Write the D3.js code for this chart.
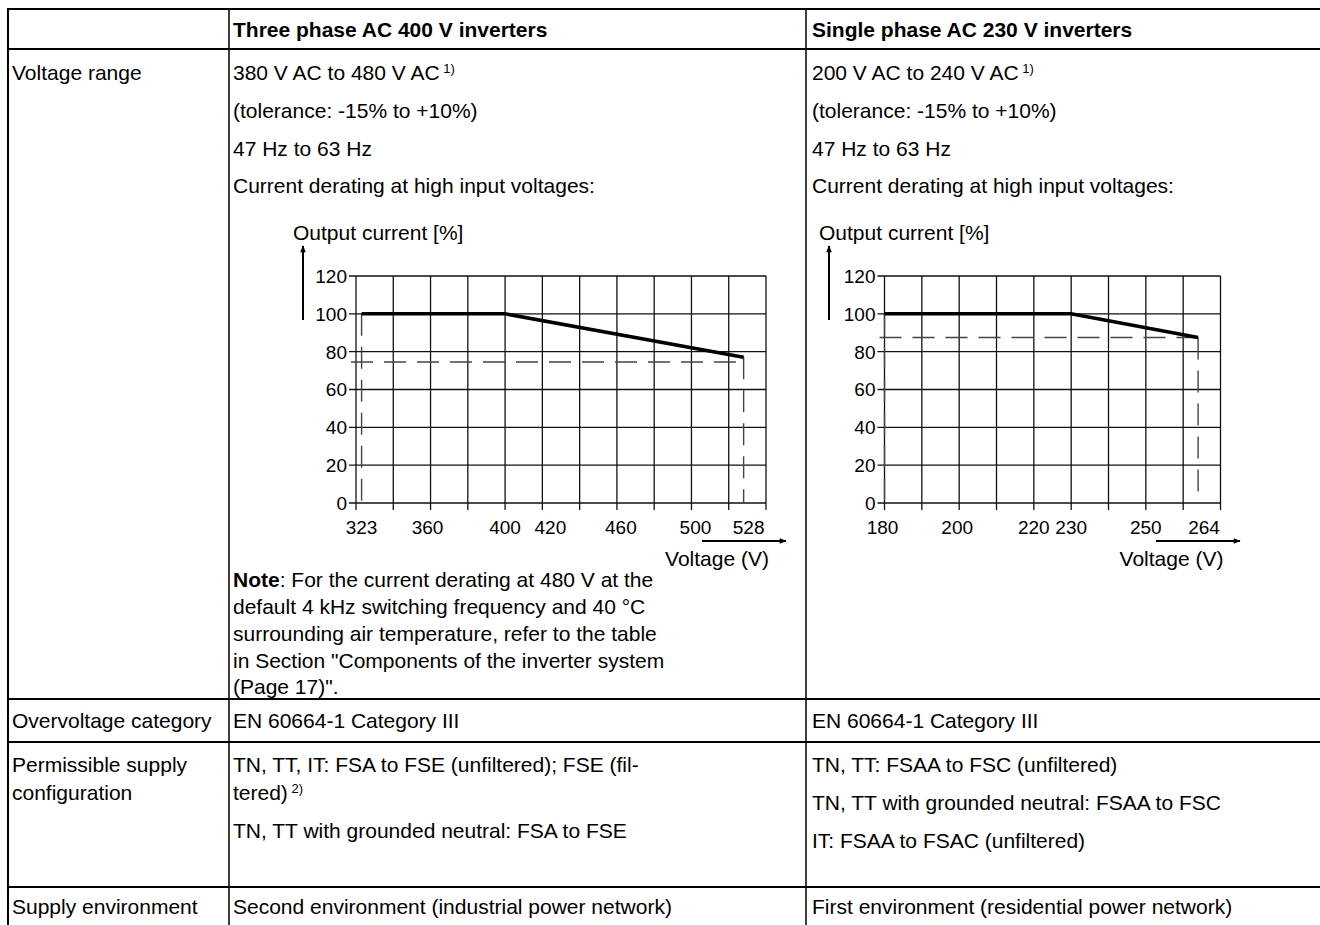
<!DOCTYPE html>
<html><head><meta charset="utf-8">
<script src="https://cdn.jsdelivr.net/npm/d3@7"></script>
<style>
body{margin:0;background:#fff}
svg{display:block}
text{font-family:"Liberation Sans",Arial,Helvetica,sans-serif;fill:#000}
</style>
</head><body>
<svg id="c" width="1320" height="925"></svg>
<script>
// ---------- data ----------
const threePhaseVoltage = [323, 400, 528];
const threePhaseCurrent = [100, 100, 77];
const threePhaseRefCurrent = 74.5;
const singlePhaseVoltage = [180, 230, 264];
const singlePhaseCurrent = [100, 100, 87.5];
const singlePhaseRefCurrent = 87.5;
const threePhaseTicks = [323, 360, 400, 420, 460, 500, 528];
const singlePhaseTicks = [180, 200, 220, 230, 250, 264];
const currentTicks = [0, 20, 40, 60, 80, 100, 120];
const threePhaseDomain = [320, 540];
const singlePhaseDomain = [180, 270];
const threePhaseGridStep = 20;
const singlePhaseGridStep = 10;

const svg = d3.select("#c");
const FS = 21;

// ---------- table ----------
const colX = [8, 229, 806];
const rowY = [9, 49, 699, 742, 887];
const g = svg.append("g");
rowY.forEach(y => g.append("line").attr("x1", 7).attr("x2", 1320).attr("y1", y).attr("y2", y)
  .attr("stroke", "#000").attr("stroke-width", 2));
colX.forEach((x, i) => g.append("line").attr("x1", x).attr("x2", x).attr("y1", 8).attr("y2", 925)
  .attr("stroke", "#000").attr("stroke-width", i === 0 ? 2 : 1.5));

function txt(x, y, s, opts = {}) {
  const t = svg.append("text").attr("x", x).attr("y", y).style("font-size", (opts.size || FS) + "px");
  if (opts.bold) t.style("font-weight", "bold");
  if (opts.anchor) t.attr("text-anchor", opts.anchor);
  return t.text(s);
}
function txtSup(x, y, s, sup) {
  const t = svg.append("text").attr("x", x).attr("y", y).style("font-size", FS + "px");
  t.append("tspan").text(s);
  t.append("tspan").attr("dy", -7).style("font-size", "13px").text(" " + sup);
}

// header
txt(233, 37, "Three phase AC 400 V inverters", {bold: true});
txt(812, 37, "Single phase AC 230 V inverters", {bold: true});

// row 1
txt(12, 80, "Voltage range");
txtSup(233, 80, "380 V AC to 480 V AC", "1)");
txt(233, 118, "(tolerance: -15% to +10%)");
txt(233, 156, "47 Hz to 63 Hz");
txt(233, 193, "Current derating at high input voltages:");
txtSup(812, 80, "200 V AC to 240 V AC", "1)");
txt(812, 118, "(tolerance: -15% to +10%)");
txt(812, 156, "47 Hz to 63 Hz");
txt(812, 193, "Current derating at high input voltages:");

// note
const note = svg.append("text").attr("x", 233).attr("y", 587).style("font-size", FS + "px");
note.append("tspan").style("font-weight", "bold").text("Note");
note.append("tspan").text(": For the current derating at 480 V at the");
txt(233, 614, "default 4 kHz switching frequency and 40 °C");
txt(233, 641, "surrounding air temperature, refer to the table");
txt(233, 668, "in Section \"Components of the inverter system");
txt(233, 694, "(Page 17)\".");

// other rows
txt(12, 728, "Overvoltage category");
txt(233, 728, "EN 60664-1 Category III");
txt(812, 728, "EN 60664-1 Category III");
txt(12, 772, "Permissible supply");
txt(12, 800, "configuration");
txt(233, 772, "TN, TT, IT: FSA to FSE (unfiltered); FSE (fil-");
txtSup(233, 800, "tered)", "2)");
txt(233, 838, "TN, TT with grounded neutral: FSA to FSE");
txt(812, 772, "TN, TT: FSAA to FSC (unfiltered)");
txt(812, 810, "TN, TT with grounded neutral: FSAA to FSC");
txt(812, 848, "IT: FSAA to FSAC (unfiltered)");
txt(12, 914, "Supply environment");
txt(233, 914, "Second environment (industrial power network)");
txt(812, 914, "First environment (residential power network)");

// ---------- charts ----------
svg.append("defs").append("marker").attr("id", "arr").attr("viewBox", "0 0 10 10")
  .attr("refX", 9).attr("refY", 5).attr("markerWidth", 9).attr("markerHeight", 7)
  .attr("markerUnits", "userSpaceOnUse").attr("orient", "auto")
  .append("path").attr("d", "M0,1 L10,5 L0,9 Z").attr("fill", "#000");

function chart(cfg) {
  const x = d3.scaleLinear().domain(cfg.domain).range([cfg.x0, cfg.x1]);
  const y = d3.scaleLinear().domain([0, 120]).range([cfg.y0, cfg.y1]);
  const c = svg.append("g");
  const gridX = d3.range(cfg.domain[0], cfg.domain[1] + 0.001, cfg.step);
  // vertical grid
  c.selectAll(".vg").data(gridX).join("line")
    .attr("x1", d => x(d)).attr("x2", d => x(d)).attr("y1", y(120)).attr("y2", y(0) + 7)
    .attr("stroke", "#111").attr("stroke-width", 1.3);
  // horizontal grid
  c.selectAll(".hg").data(currentTicks).join("line")
    .attr("x1", x(cfg.domain[0]) - 7).attr("x2", x(cfg.domain[1])).attr("y1", d => y(d)).attr("y2", d => y(d))
    .attr("stroke", "#111").attr("stroke-width", 1.3);
  // y labels
  c.selectAll(".yl").data(currentTicks).join("text")
    .attr("x", x(cfg.domain[0]) - 9).attr("y", d => y(d)).attr("dy", "0.36em")
    .attr("text-anchor", "end").style("font-size", "19px").text(d => d);
  // x labels
  c.selectAll(".xl").data(cfg.ticks).join("text")
    .attr("x", (d, i) => x(d) + (cfg.dx[i] || 0)).attr("y", y(0) + 31)
    .attr("text-anchor", "middle").style("font-size", "19px").text(d => d);
  // dashed refs
  const n = cfg.vx.length;
  const dash = "22,11";
  c.append("line").attr("x1", x(cfg.vx[0])).attr("x2", x(cfg.vx[0]))
    .attr("y1", y(cfg.vy[0])).attr("y2", y(0) + 5)
    .attr("stroke", "#444").attr("stroke-width", 1.4).attr("stroke-dasharray", dash);
  c.append("line").attr("x1", x(cfg.vx[n - 1])).attr("x2", x(cfg.vx[n - 1]))
    .attr("y1", y(cfg.vy[n - 1])).attr("y2", y(0))
    .attr("stroke", "#444").attr("stroke-width", 1.4).attr("stroke-dasharray", dash);
  c.append("line").attr("x1", x(cfg.domain[0]) - 5).attr("x2", x(cfg.vx[n - 1]))
    .attr("y1", y(cfg.ref)).attr("y2", y(cfg.ref))
    .attr("stroke", "#444").attr("stroke-width", 1.4).attr("stroke-dasharray", dash);
  // main curve
  c.append("path").datum(cfg.vx.map((v, i) => [v, cfg.vy[i]]))
    .attr("d", d3.line().x(d => x(d[0])).y(d => y(d[1])))
    .attr("fill", "none").attr("stroke", "#000").attr("stroke-width", 3.5);
  // axis arrows
  c.append("line").attr("x1", cfg.ax).attr("x2", cfg.ax).attr("y1", 320).attr("y2", 246)
    .attr("stroke", "#000").attr("stroke-width", 2).attr("marker-end", "url(#arr)");
  c.append("text").attr("x", cfg.ax - 10).attr("y", 240).style("font-size", "21px").text("Output current [%]");
  c.append("line").attr("x1", cfg.hx0).attr("x2", cfg.hx1).attr("y1", 541).attr("y2", 541)
    .attr("stroke", "#000").attr("stroke-width", 2).attr("marker-end", "url(#arr)");
  c.append("text").attr("x", cfg.x1 + 3).attr("y", 566).attr("text-anchor", "end")
    .style("font-size", "21px").text("Voltage (V)");
}

chart({domain: threePhaseDomain, step: threePhaseGridStep, x0: 356, x1: 766, y0: 503, y1: 276,
  ticks: threePhaseTicks, dx: [0, -3, 0, 8, 4, 4, 5],
  vx: threePhaseVoltage, vy: threePhaseCurrent, ref: threePhaseRefCurrent,
  ax: 303, hx0: 702, hx1: 786});
chart({domain: singlePhaseDomain, step: singlePhaseGridStep, x0: 884.5, x1: 1220.5, y0: 503, y1: 276,
  ticks: singlePhaseTicks, dx: [-2, -2, 0, 0, 0, 6],
  vx: singlePhaseVoltage, vy: singlePhaseCurrent, ref: singlePhaseRefCurrent,
  ax: 829, hx0: 1156, hx1: 1240});
</script>
</body></html>
